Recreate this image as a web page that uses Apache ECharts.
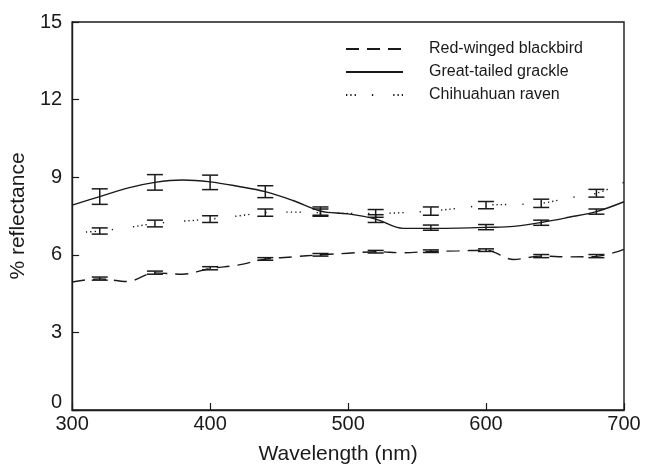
<!DOCTYPE html>
<html>
<head>
<meta charset="utf-8">
<script src="https://cdn.jsdelivr.net/npm/echarts@6/dist/echarts.min.js"></script>
<style>html,body{margin:0;padding:0;background:#fff}#c{width:645px;height:471px}</style>
</head>
<body>
<div id="c"></div>
<script>
// ---- data ----
const seriesNames = ['Red-winged blackbird', 'Great-tailed grackle', 'Chihuahuan raven'];
const xTicks = [300, 400, 500, 600, 700];
const yTicks = [0, 3, 6, 9, 12, 15];

// smooth curves (wavelength nm, % reflectance)
const curveX = [300, 320, 340, 360, 380, 400, 420, 440, 460, 480, 500, 520, 540, 560, 580, 600, 620, 640, 660, 680, 700];
const blackbirdCurve = [4.95, 5.07, 4.97, 5.30, 5.25, 5.47, 5.60, 5.83, 5.92, 6.00, 6.06, 6.12, 6.08, 6.13, 6.15, 6.18, 5.82, 5.95, 5.92, 5.94, 6.21];
const grackleCurve   = [7.92, 8.25, 8.58, 8.80, 8.89, 8.82, 8.65, 8.44, 8.10, 7.69, 7.58, 7.38, 7.02, 7.02, 7.03, 7.06, 7.10, 7.25, 7.45, 7.67, 8.05];
const ravenCurveX = [310, 320, 340, 360, 380, 400, 420, 440, 460, 480, 500, 520, 540, 560, 580, 600, 620, 640, 660, 680, 700];
const ravenCurve  = [6.88, 6.92, 7.05, 7.21, 7.30, 7.38, 7.50, 7.63, 7.65, 7.63, 7.60, 7.60, 7.63, 7.69, 7.80, 7.92, 7.95, 7.99, 8.20, 8.38, 8.80];

// error bars at sampled wavelengths: mean and half-width
const barX = [320, 360, 400, 440, 480, 520, 560, 600, 640, 680];
const blackbirdMean = [5.08, 5.31, 5.48, 5.84, 6.00, 6.12, 6.14, 6.18, 5.95, 5.95];
const blackbirdErr  = [0.06, 0.06, 0.06, 0.05, 0.05, 0.05, 0.05, 0.05, 0.06, 0.06];
const grackleMean   = [8.25, 8.80, 8.80, 8.44, 7.69, 7.40, 7.05, 7.07, 7.24, 7.67];
const grackleErr    = [0.30, 0.30, 0.28, 0.23, 0.16, 0.15, 0.10, 0.10, 0.10, 0.10];
const ravenMean     = [6.92, 7.21, 7.38, 7.63, 7.63, 7.60, 7.69, 7.92, 7.99, 8.38];
const ravenErr      = [0.12, 0.13, 0.13, 0.14, 0.14, 0.15, 0.16, 0.14, 0.16, 0.15];

// ---- build ----
const FONT = 'Liberation Sans, Arial, sans-serif';
const INK = '#1a1a1a';
function pairs(xs, ys) { return xs.map((x, i) => [x, ys[i]]); }
function errData(means, errs) { return barX.map((x, i) => [x, means[i] - errs[i], means[i] + errs[i]]); }
function errSeries(means, errs) {
  return {
    type: 'custom',
    data: errData(means, errs),
    z: 3,
    silent: true,
    renderItem: function (params, api) {
      const x = api.value(0);
      const lo = api.coord([x, api.value(1)]);
      const hi = api.coord([x, api.value(2)]);
      const hw = 8;
      const st = { stroke: INK, lineWidth: 1.5, fill: null };
      return {
        type: 'group',
        children: [
          { type: 'line', shape: { x1: hi[0], y1: hi[1], x2: lo[0], y2: lo[1] }, style: st },
          { type: 'line', shape: { x1: hi[0] - hw, y1: hi[1], x2: hi[0] + hw, y2: hi[1] }, style: st },
          { type: 'line', shape: { x1: lo[0] - hw, y1: lo[1], x2: lo[0] + hw, y2: lo[1] }, style: st }
        ]
      };
    }
  };
}

const chart = echarts.init(document.getElementById('c'), null, { renderer: 'canvas' });
chart.setOption({
  animation: false,
  backgroundColor: '#fff',
  textStyle: { fontFamily: FONT },
  grid: { left: 70, right: 21, top: 22, bottom: 61, show: true, borderColor: INK, borderWidth: 1.4, backgroundColor: 'transparent' },
  legend: {
    orient: 'vertical',
    left: 345, top: 41, padding: 0,
    itemWidth: 57, itemHeight: 14, itemGap: 7,
    data: seriesNames,
    itemStyle: { opacity: 0 },
    textStyle: { fontFamily: FONT, fontSize: 16, color: INK, padding: [0, 0, 0, 21] }
  },
  xAxis: {
    type: 'value', min: xTicks[0], max: xTicks[xTicks.length - 1], interval: 100,
    name: 'Wavelength (nm)', nameLocation: 'middle', nameGap: 34,
    nameTextStyle: { fontFamily: FONT, fontSize: 21, color: INK, padding: [0, 20, 0, 0] },
    axisLine: { lineStyle: { color: INK, width: 1.4 } },
    axisTick: { inside: true, length: 7, lineStyle: { color: INK, width: 1.2 } },
    axisLabel: { margin: 4, fontFamily: FONT, fontSize: 20, color: INK },
    splitLine: { show: false }
  },
  yAxis: {
    type: 'value', min: yTicks[0], max: yTicks[yTicks.length - 1], interval: 3,
    name: '% reflectance', nameLocation: 'middle', nameGap: 41,
    nameTextStyle: { fontFamily: FONT, fontSize: 21, color: INK },
    axisLine: { lineStyle: { color: INK, width: 1.4 } },
    axisTick: { inside: true, length: 7, lineStyle: { color: INK, width: 1.2 } },
    axisLabel: {
      margin: 10, fontFamily: FONT, fontSize: 20, color: INK,
      formatter: function (v) { return v === 0 ? '{z|0}' : String(v); },
      rich: { z: { fontFamily: FONT, fontSize: 20, color: INK, padding: [0, 0, 16, 0] } }
    },
    splitLine: { show: false }
  },
  series: [
    { name: seriesNames[0], type: 'line', data: pairs(curveX, blackbirdCurve), smooth: 0.35, symbol: 'none', z: 2,
      lineStyle: { color: INK, width: 1.4, type: [13, 8] }, itemStyle: { color: INK } },
    { name: seriesNames[1], type: 'line', data: pairs(curveX, grackleCurve), smooth: 0.35, symbol: 'none', z: 2,
      lineStyle: { color: INK, width: 1.4, type: 'solid' }, itemStyle: { color: INK } },
    { name: seriesNames[2], type: 'line', data: pairs(ravenCurveX, ravenCurve), smooth: 0.35, symbol: 'none', z: 2,
      lineStyle: { color: INK, width: 1.4, type: [1.3, 3, 1.3, 3, 1.3, 16, 1.3, 20, 1.3, 3] }, itemStyle: { color: INK } },
    errSeries(blackbirdMean, blackbirdErr),
    errSeries(grackleMean, grackleErr),
    errSeries(ravenMean, ravenErr)
  ]
});
</script>
</body>
</html>
